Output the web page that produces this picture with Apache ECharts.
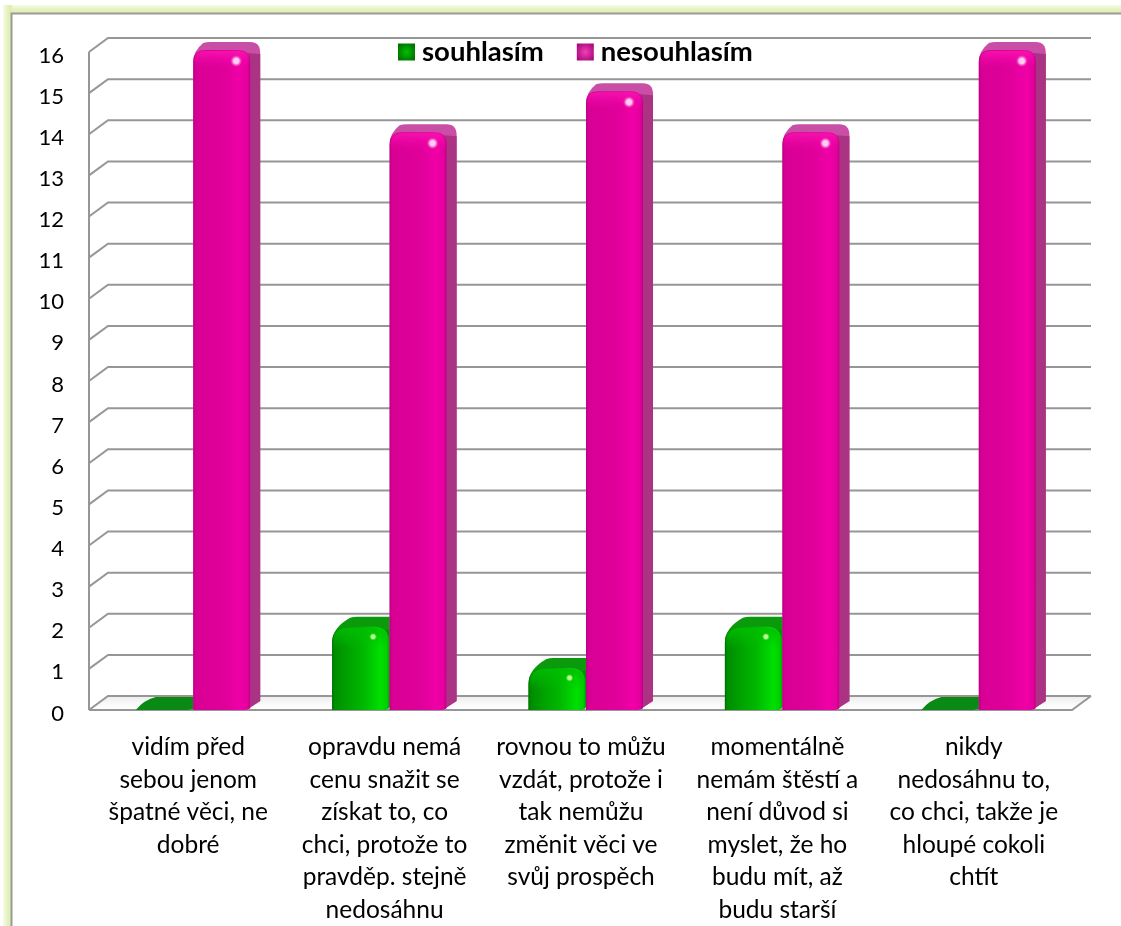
<!DOCTYPE html>
<html><head><meta charset="utf-8">
<style>html,body{margin:0;padding:0;background:#fff}#c{width:1121px;height:926px}</style>
<script src="https://cdn.jsdelivr.net/npm/echarts@6/dist/echarts.min.js"></script>
</head><body><div id="c"></div>
<script>
const categories = [
 "vidím před\nsebou jenom\nšpatné věci, ne\ndobré",
 "opravdu nemá\ncenu snažit se\nzískat to, co\nchci, protože to\npravděp. stejně\nnedosáhnu",
 "rovnou to můžu\nvzdát, protože i\ntak nemůžu\nzměnit věci ve\nsvůj prospěch",
 "momentálně\nnemám štěstí a\nnení důvod si\nmyslet, že ho\nbudu mít, až\nbudu starší",
 "nikdy\nnedosáhnu to,\nco chci, takže je\nhloupé cokoli\nchtít"
];
const souhlasim = [0, 2, 1, 2, 0];
const nesouhlasim = [16, 14, 15, 14, 16];
const yTicks = [0,1,2,3,4,5,6,7,8,9,10,11,12,13,14,15,16];

const G = echarts.graphic;
const hgrad = (stops) => new G.LinearGradient(0,0,1,0,stops.map(s=>({offset:s[0],color:s[1]})));
const vgrad = (stops) => new G.LinearGradient(0,0,0,1,stops.map(s=>({offset:s[0],color:s[1]})));

const pinkStyle = {
  offset: 5, dx: 10, dy: 8, lift: 2, sh: 12, sx: 14, sy: 11, srx: 6, sry: 6,
  front: [[0,'#bd0085'],[0.05,'#d80094'],[0.55,'#e0009a'],[0.82,'#f000a8'],[0.95,'#e4009d'],[1,'#c00086']],
  side: '#ab3384', top: '#c94fa6',
  bevelA: 'rgba(250,20,175,0.9)', bevelB: 'rgba(240,0,170,0)',
  spotA:'rgba(255,205,240,1)', spotB:'rgba(255,80,205,0)'
};
const greenStyle = {
  offset: -52.5, dx: 18, dy: 10, lift: 1, sh: 16, sx: 16, sy: 10, srx: 4, sry: 9,
  front: [[0,'#006e00'],[0.04,'#008c00'],[0.3,'#00a400'],[0.55,'#00b800'],[0.85,'#00e000'],[0.96,'#00d000'],[1,'#00a800']],
  side: '#0a8a0a', top: '#0b9a0b',
  bevelA: 'rgba(0,190,0,0.9)', bevelB: 'rgba(0,190,0,0)',
  spotA:'rgba(190,255,150,1)', spotB:'rgba(60,235,40,0)'
};

function barRenderer(st){
  return function(params, api){
    const i = api.value(0), v = api.value(1);
    const c = api.coord([i, v]), base = api.coord([i, 0])[1];
    const w = api.size([1,0])[0] * 0.2903;
    const x0 = c[0] + st.offset, x1 = x0 + w;
    const children = [];
    if (v === 0) {
      const t = base - 13;
      children.push({type:'path', shape:{pathData:
        `M${x0} ${base} Q${x0+8} ${t+3} ${x0+20} ${t} L${x1+1} ${t} L${x1+1} ${base-1} L${x1-5} ${base} Z`},
        style:{fill:'#0a8a14'}});
      return {type:'group', children};
    }
    const tf = c[1] - st.lift, tb = tf - st.dy, xr = x1 + 10;
    const silhouette = `M${x0} ${tf+st.sh} Q${x0} ${tf+1} ${x0+st.dx} ${tb+1} Q${x0+st.dx+3} ${tb} ${x0+st.dx+7} ${tb} `+
      `L${xr-10} ${tb} Q${xr} ${tb} ${xr} ${tb+11} L${xr} ${base-9} L${x1-4} ${base} L${x0} ${base} Z`;
    children.push({type:'path', shape:{pathData:silhouette}, style:{fill:st.top}});
    // side face
    children.push({type:'path', shape:{pathData:
      `M${x1-3} ${tf+3} L${xr} ${tb+12} L${xr} ${base-9} L${x1-4} ${base} L${x1} ${base-2} Z`}, style:{fill:st.side}});
    // front face
    const r = st.sh;
    const fp = `M${x0} ${base} L${x0} ${tf+r} Q${x0} ${tf} ${x0+r} ${tf} L${x1-r} ${tf} Q${x1} ${tf} ${x1} ${tf+r} L${x1} ${base-2} Q${x1-2} ${base} ${x1-8} ${base} Z`;
    children.push({type:'path', shape:{pathData:fp}, style:{fill:hgrad(st.front)}});
    // soft bevel along the top of the front face
    const bp = `M${x0+1} ${tf+r+6} L${x0+1} ${tf+r} Q${x0+1} ${tf+1} ${x0+r} ${tf+1} L${x1-r} ${tf+1} Q${x1-1} ${tf+1} ${x1-1} ${tf+r} L${x1-1} ${tf+r+6} Z`;
    children.push({type:'path', shape:{pathData:bp}, style:{fill:vgrad([[0,st.bevelA],[1,st.bevelB]])}});
    // highlight
    const sx = x1 - st.sx, sy = tf + st.sy;
    children.push({type:'ellipse', shape:{cx:sx, cy:sy, rx:st.srx, ry:st.sry}, rotation:-0.35, originX:sx, originY:sy,
      style:{fill:new G.RadialGradient(0.5,0.5,0.5,[{offset:0,color:st.spotA},{offset:0.45,color:st.spotA},{offset:1,color:st.spotB}])}});
    return {type:'group', children};
  };
}

function wallRenderer(params, api){
  const v = api.value(1);
  const y = api.coord([0, v])[1];
  const cs = params.coordSys;
  const xL = cs.x - 1, xR = cs.x + cs.width, dx = 19, dy = 14;
  const ls = {stroke:'#969696', lineWidth:2, fill:null};
  const children = [];
  if (v === 0) {
    children.push({type:'polygon', shape:{points:[[xL,y],[xL+dx,y-dy],[xR+dx,y-dy],[xR,y]]},
      style:{fill:vgrad([[0,'#ececec'],[0.5,'#f8f8f8'],[1,'#ffffff']])}});
    children.push({type:'polyline', shape:{points:[[xL,y],[xR,y],[xR+dx,y-dy]]}, style:ls});
  }
  children.push({type:'polyline', shape:{points:[[xL,y],[xL+dx,y-dy],[xR+dx,y-dy]]}, style:ls});
  if (v === 16) {
    const yb = api.coord([0,0])[1];
    children.push({type:'line', shape:{x1:xL,y1:y,x2:xL,y2:yb}, style:ls});
  }
  return {type:'group', children};
}

const chart = echarts.init(document.getElementById('c'), null, {renderer:'canvas'});
const font = 'Lato, Carlito, "Open Sans", sans-serif';
chart.setOption({
  animation:false,
  backgroundColor:'#ffffff',
  graphic:{elements:[
    {type:'rect', z:0, shape:{x:3,y:5,width:1118,height:9}, style:{fill:vgrad([[0,'#f6fbe8'],[0.5,'#e4f2be'],[1,'#dcedae']])}},
    {type:'rect', z:0, shape:{x:3,y:5,width:9,height:921}, style:{fill:hgrad([[0,'#f6fbe8'],[0.5,'#e4f2be'],[1,'#dcedae']])}},
    {type:'rect', z:0, shape:{x:11.5,y:13.5,width:1130,height:930}, style:{fill:'#ffffff',stroke:'#9a9a9a',lineWidth:2}}
  ]},
  grid:{left:90,right:49,top:52,bottom:216,containLabel:false},
  legend:{
    left:393, top:33, itemWidth:17, itemHeight:17, itemGap:33, selectedMode:false, z:10,
    textStyle:{fontFamily:font,fontWeight:'bold',fontSize:27.5,color:'#000',padding:[0,0,0,2]},
    data:[
      {name:'souhlasím', icon:'rect', itemStyle:{color:new G.RadialGradient(0.5,0.5,0.7,[{offset:0,color:'#00c000'},{offset:1,color:'#006400'}])}},
      {name:'nesouhlasím', icon:'rect', itemStyle:{color:new G.RadialGradient(0.5,0.5,0.7,[{offset:0,color:'#f040b8'},{offset:1,color:'#a00070'}])}}
    ]
  },
  xAxis:{type:'category',data:categories,z:6,
    axisLine:{show:false},axisTick:{show:false},splitLine:{show:false},
    axisLabel:{interval:0,margin:21,fontFamily:font,fontSize:24.5,lineHeight:32.5,color:'#000',align:'center',verticalAlign:'top'}},
  yAxis:{type:'value',min:0,max:16,interval:1,z:6,
    axisLine:{show:false},axisTick:{show:false},splitLine:{show:false},
    axisLabel:{margin:26,fontFamily:font,fontSize:22,color:'#000',verticalAlign:'top',lineHeight:7}},
  series:[
    {type:'custom',name:'mřížka',silent:true,z:1,clip:false,renderItem:wallRenderer,
      encode:{x:0,y:1},data:yTicks.map(v=>[0,v])},
    {type:'custom',name:'souhlasím',z:3,clip:false,renderItem:barRenderer(greenStyle),
      itemStyle:{color:'#008a00'},encode:{x:0,y:1},data:souhlasim.map((v,i)=>[i,v])},
    {type:'custom',name:'nesouhlasím',z:4,clip:false,renderItem:barRenderer(pinkStyle),
      itemStyle:{color:'#e0009a'},encode:{x:0,y:1},data:nesouhlasim.map((v,i)=>[i,v])}
  ]
});
</script></body></html>
